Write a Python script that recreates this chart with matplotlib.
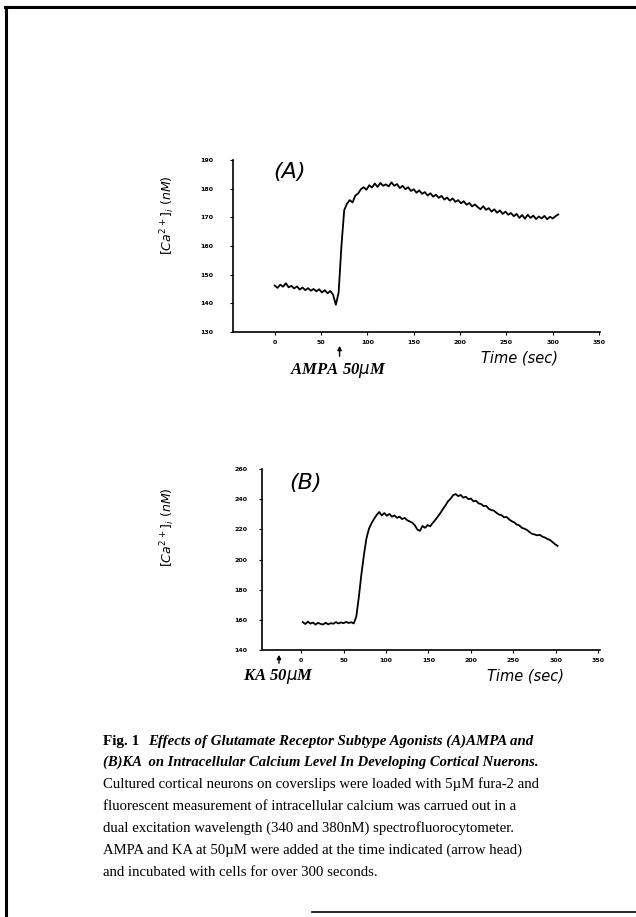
import numpy as np
import matplotlib.pyplot as plt
from matplotlib.lines import Line2D

# panel A: AMPA, sampled every 3 s from t=0
ca_a = [146.2, 145.4, 146.5, 145.8, 147.0, 145.6, 146.1, 145.2, 145.9, 144.8,
        145.5, 144.6, 145.3, 144.4, 145.0, 144.2, 144.9, 143.8, 144.6, 143.5,
        144.3, 143.0, 139.5, 143.8, 160.0, 172.5, 174.8, 176.0, 175.2, 177.6,
        178.3, 179.8, 180.5, 179.6, 181.2, 180.4, 181.8, 180.6, 182.0, 181.0,
        181.5, 180.8, 182.2, 181.0, 181.6, 180.2, 181.0, 179.8, 180.5, 179.2,
        179.8, 178.6, 179.4, 178.2, 178.8, 177.6, 178.4, 177.2, 177.9, 176.8,
        177.5, 176.2, 176.9, 175.8, 176.6, 175.4, 176.0, 174.9, 175.6, 174.4,
        175.0, 173.8, 174.5, 173.6, 172.8, 173.9, 172.6, 173.2, 172.0, 172.8,
        171.6, 172.4, 171.2, 172.0, 170.9, 171.5, 170.4, 171.2, 169.8, 170.8,
        169.5, 170.9, 169.8, 170.6, 169.4, 170.3, 169.6, 170.5, 169.3, 170.2,
        169.6, 170.4, 171.0]
t_a = 3 * np.arange(len(ca_a))

# panel B: KA, sampled every 3 s from t=2
ca_b = [158.5, 157.2, 158.8, 157.5, 158.2, 156.8, 158.0, 157.3, 156.9, 158.1,
        157.0, 157.8, 157.4, 158.5, 157.6, 158.3, 157.8, 158.6, 157.9, 158.4,
        157.6, 162.0, 175.0, 190.0, 203.0, 214.0, 220.5, 224.0, 227.0, 229.5,
        231.5, 229.2, 230.8, 229.0, 230.2, 228.4, 229.2, 227.6, 228.4, 226.8,
        227.6, 226.0, 225.2, 224.4, 222.6, 219.8, 219.0, 222.2, 221.0, 222.8,
        222.0, 224.2, 226.2, 228.4, 230.8, 233.4, 235.8, 238.6, 240.2, 242.6,
        243.4, 242.0, 242.8, 241.0, 241.6, 240.0, 240.4, 238.6, 239.0, 237.2,
        236.8, 235.4, 235.6, 233.6, 232.8, 232.4, 231.0, 229.8, 229.4, 228.0,
        228.2, 226.6, 225.4, 224.6, 223.2, 222.6, 221.0, 220.4, 219.6, 218.2,
        217.0, 216.6, 216.0, 216.4, 215.2, 214.6, 213.6, 213.0, 211.6, 210.2,
        209.0]
t_b = 2 + 3 * np.arange(len(ca_b))

xticks = [0, 50, 100, 150, 200, 250, 300, 350]
yticks_a = [130, 140, 150, 160, 170, 180, 190]
yticks_b = [140, 160, 180, 200, 220, 240, 260]
t_ampa = 70
t_ka = -26

caption = [
    "Cultured cortical neurons on coverslips were loaded with 5\u00b5M fura-2 and",
    "fluorescent measurement of intracellular calcium was carrued out in a",
    "dual excitation wavelength (340 and 380nM) spectrofluorocytometer.",
    "AMPA and KA at 50\u00b5M were added at the time indicated (arrow head)",
    "and incubated with cells for over 300 seconds.",
]

W, H = 636, 917
fig = plt.figure(figsize=(W / 100, H / 100), dpi=100)


def box(l, t, r, b):
    return [l / W, 1 - b / H, (r - l) / W, (b - t) / H]


def style(ax, ylabpad):
    for s in ['top', 'right']:
        ax.spines[s].set_visible(False)
    for s in ['left', 'bottom']:
        ax.spines[s].set_linewidth(1.2)
    ax.tick_params(axis='both', labelsize=4.5, length=2.5, width=0.8)
    ax.tick_params(axis='y', pad=ylabpad)
    for lab in ax.get_xticklabels() + ax.get_yticklabels():
        lab.set_fontweight('bold')


ylab = r'$[Ca^{2+}]_i$ $(nM)$'

# panel A
axa = fig.add_axes(box(233, 160, 600, 332))
axa.plot(t_a, ca_a, color='black', lw=1.3)
axa.set_xlim(-45, 351)
axa.set_ylim(130, 190)
axa.set_xticks(xticks)
axa.set_yticks(yticks_a)
style(axa, 12)
axa.text(0.11, 0.93, '(A)', transform=axa.transAxes, fontsize=16, style='italic', va='center')
axa.text(0.78, -0.15, 'Time (sec)', transform=axa.transAxes, fontsize=10.5, style='italic', ha='center', va='center')
axa.annotate('', xy=(t_ampa, 130 - 60 * 11 / 172), xytext=(t_ampa, 130 - 60 * 27 / 172),
             arrowprops=dict(arrowstyle='-|>', color='black', lw=1.0, mutation_scale=6),
             annotation_clip=False)
fig.text(338 / W, 1 - 371 / H, r'AMPA 50$\mu$M', fontsize=12, family='Liberation Serif',
         weight='bold', style='italic', ha='center', va='center')
fig.text(168 / W, 1 - 215 / H, ylab, fontsize=9, rotation=90, ha='center', va='center')

# panel B
axb = fig.add_axes(box(262, 469, 600, 650))
axb.plot(t_b, ca_b, color='black', lw=1.3)
axb.set_xlim(-46, 352)
axb.set_ylim(140, 260)
axb.set_xticks(xticks)
axb.set_yticks(yticks_b)
style(axb, 8)
axb.text(0.08, 0.92, '(B)', transform=axb.transAxes, fontsize=16, style='italic', va='center')
axb.text(0.78, -0.145, 'Time (sec)', transform=axb.transAxes, fontsize=10.5, style='italic', ha='center', va='center')
axb.annotate('', xy=(t_ka, 140 - 120 * 2 / 181), xytext=(t_ka, 140 - 120 * 16 / 181),
             arrowprops=dict(arrowstyle='-|>', color='black', lw=1.0, mutation_scale=6),
             annotation_clip=False)
fig.text(278 / W, 1 - 676 / H, r'KA 50$\mu$M', fontsize=12, family='Liberation Serif',
         weight='bold', style='italic', ha='center', va='center')
fig.text(168 / W, 1 - 527 / H, ylab, fontsize=9, rotation=90, ha='center', va='center')

# caption
fig.text(103 / W, 1 - 741 / H, 'Fig. 1', fontsize=11, family='Liberation Serif',
         weight='bold', va='center')
fig.text(148 / W, 1 - 741 / H, 'Effects of Glutamate Receptor Subtype Agonists (A)AMPA and',
         fontsize=10.7, family='Liberation Serif', weight='bold', style='italic', va='center')
fig.text(103 / W, 1 - 762 / H, '(B)KA  on Intracellular Calcium Level In Developing Cortical Nuerons.',
         fontsize=10.5, family='Liberation Serif', weight='bold', style='italic', va='center')
for i, line in enumerate(caption):
    fig.text(103 / W, 1 - (784 + 22 * i) / H, line, fontsize=10.6,
             family='Liberation Serif', va='center')

# page frame
fig.add_artist(Line2D([5 / W, 1], [1 - 7 / H, 1 - 7 / H], color='black', lw=2.2))
fig.add_artist(Line2D([6 / W, 6 / W], [0, 1 - 7 / H], color='black', lw=2.2))
fig.add_artist(Line2D([312 / W, 1], [1 - 912 / H, 1 - 912 / H], color='black', lw=1.2))

fig.savefig('out.png', dpi=100)
